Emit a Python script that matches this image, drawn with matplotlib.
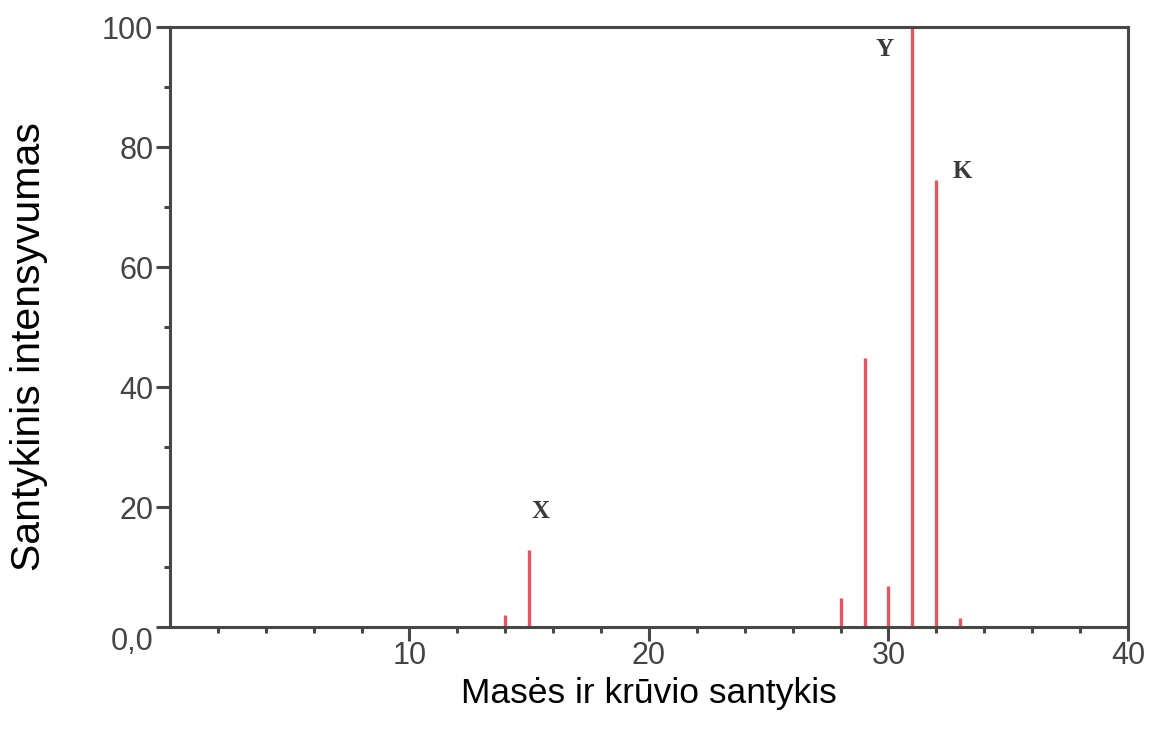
import matplotlib
matplotlib.use("Agg")
import matplotlib.pyplot as plt

plt.rcParams["font.family"] = ["Liberation Sans", "DejaVu Sans"]

# ── Duomenys ──────────────────────────────────────────────────────────────
mz        = [14, 15, 28, 29, 30, 31, 32, 33]
intensity = [2.0, 12.8, 4.8, 44.8, 6.8, 100, 74.5, 1.5]

peak_labels = ["X", "Y", "K"]
label_x     = [15.45, 29.85, 33.1]
label_y     = [19.2, 96.2, 76.0]

x_ticks = [10, 20, 30, 40]
y_ticks = [0, 20, 40, 60, 80, 100]
y_tick_labels = ["0,0", "20", "40", "60", "80", "100"]

SPINE = "#474747"
PEAK  = "#e0464f"

# ── Plot ──────────────────────────────────────────────────────────────────
fig = plt.figure(figsize=(11.51, 7.30), dpi=100)
ax = fig.add_axes([0.1477, 0.141, 0.8323, 0.822])

ax.vlines(mz, 0, intensity, color=PEAK, linewidth=2.4, alpha=0.9)

for lab, lx, ly in zip(peak_labels, label_x, label_y):
    ax.text(lx, ly, lab, ha="center", va="center", fontsize=18,
            family="Liberation Serif", fontweight="bold", color="#3a3a3a")

ax.set_xlim(0, 40)
ax.set_ylim(0, 100)

ax.set_xticks(x_ticks)
ax.set_xticks(range(2, 40, 2), minor=True)
ax.set_yticks(y_ticks)
ax.set_yticklabels(y_tick_labels)
ax.set_yticks(range(10, 100, 20), minor=True)

for s in ax.spines.values():
    s.set_color(SPINE)
    s.set_linewidth(2.2)

ax.tick_params(axis="both", which="major", length=10, width=2.2,
               color=SPINE, labelsize=22, labelcolor="#444444", pad=2)
ax.tick_params(axis="x", which="major", pad=0)
ax.tick_params(axis="both", which="minor", length=4, width=2.2, color=SPINE)

# "0,0" sits below the corner
ax.get_yticklabels()[0].set_verticalalignment("top")

ax.set_xlabel("Masės ir krūvio santykis", fontsize=25.5)
ax.set_ylabel("Santykinis intensyvumas", fontsize=29.5)
ax.xaxis.set_label_coords(0.5, -0.083)
ax.yaxis.set_label_coords(-0.127, 0.467)

fig.savefig("out.png", dpi=100, facecolor="white")
